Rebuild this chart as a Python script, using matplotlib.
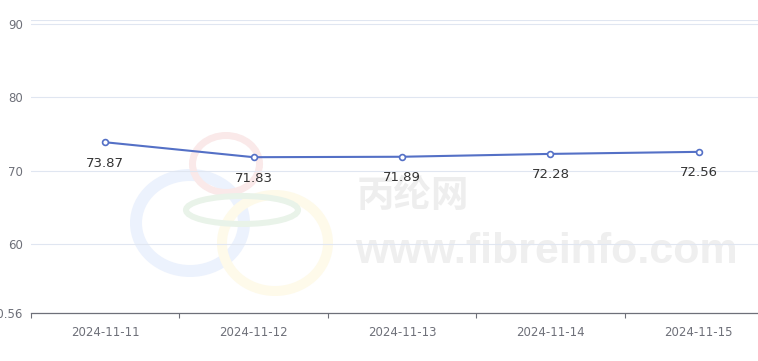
import matplotlib
matplotlib.use("Agg")
import matplotlib.pyplot as plt
from matplotlib.patches import Ellipse

## Data
dates = ["2024-11-11", "2024-11-12", "2024-11-13", "2024-11-14", "2024-11-15"]
values = [73.87, 71.83, 71.89, 72.28, 72.56]
y_min, y_max = 50.56, 90.56
y_ticks = [50.56, 60, 70, 80, 90, 90.56]
y_labels = ["50.56", "60", "70", "80", "90", ""]

W, H = 758, 361
LINE_COLOR = "#5470c6"
AXIS_COLOR = "#6E7079"
GRID_COLOR = "#E0E6F1"

plt.rcParams['font.family'] = ['DejaVu Sans', 'Noto Sans CJK SC']

fig = plt.figure(figsize=(W / 100, H / 100), dpi=100)
ax = fig.add_axes([31 / W, 48 / H, 742 / W, 293 / H])
ax.set_facecolor("none")
ax.set_zorder(2)


def px(x, y):
    # pixel (from top-left) -> figure fraction
    return x / W, 1 - y / H


## Watermark rings and text (behind the axes)
rings = [
    ((190, 223), 60, 54, 12, "#ecf2fd"),
    ((275, 243), 58, 53, 10, "#fefaea"),
    ((226, 164), 37, 32, 7, "#fae9e9"),
    ((242, 210), 59, 17, 6, "#e9f3e9"),
]
for (cx, cy), rx, ry, t, c in rings:
    e = Ellipse(px(cx, cy), 2 * (rx - t / 2) / W, 2 * (ry - t / 2) / H,
                fill=False, edgecolor=c, lw=t * 0.72,
                transform=fig.transFigure, zorder=0)
    fig.patches.append(e)

fig.text(*px(413, 196), "丙纶网", family=['Noto Sans CJK SC', 'DejaVu Sans'],
         fontsize=27, fontweight="bold", color="#eeeeee",
         ha="center", va="center", zorder=0)
fig.text(*px(546, 252), "www.fibreinfo.com", family=['Liberation Sans', 'DejaVu Sans'],
         fontsize=31, fontweight="bold", color="#efefef",
         ha="center", va="center", zorder=0)

## Line
x = list(range(len(dates)))
ax.plot(x, values, color=LINE_COLOR, lw=1.5, marker="o", ms=4.2,
        mfc="white", mec=LINE_COLOR, mew=1.2, zorder=3, clip_on=False)
for xi, v in zip(x, values):
    ax.annotate(f"{v:.2f}", (xi, v), xytext=(0, -15), textcoords="offset points",
                ha="center", va="center", fontsize=9.5, color="#333333", zorder=4)

## Axes styling
ax.set_xlim(-0.5, len(dates) - 0.5)
ax.set_ylim(y_min, y_max)
ax.set_yticks(y_ticks)
ax.set_yticklabels(y_labels)
ax.set_xticks(x)
ax.set_xticklabels(dates)
ax.set_xticks([i - 0.5 for i in range(len(dates) + 1)], minor=True)

ax.tick_params(axis="y", length=0, pad=6, labelsize=8.5, labelcolor=AXIS_COLOR)
ax.tick_params(axis="x", which="major", length=0, pad=9, labelsize=8.5, labelcolor=AXIS_COLOR)
ax.tick_params(axis="x", which="minor", length=3.6, width=0.8, color=AXIS_COLOR)

ax.grid(axis="y", color=GRID_COLOR, lw=0.8)
ax.set_axisbelow(True)
for s in ["top", "right", "left"]:
    ax.spines[s].set_visible(False)
ax.spines["bottom"].set_color(AXIS_COLOR)
ax.spines["bottom"].set_linewidth(0.9)

fig.savefig("out.png", dpi=100)
